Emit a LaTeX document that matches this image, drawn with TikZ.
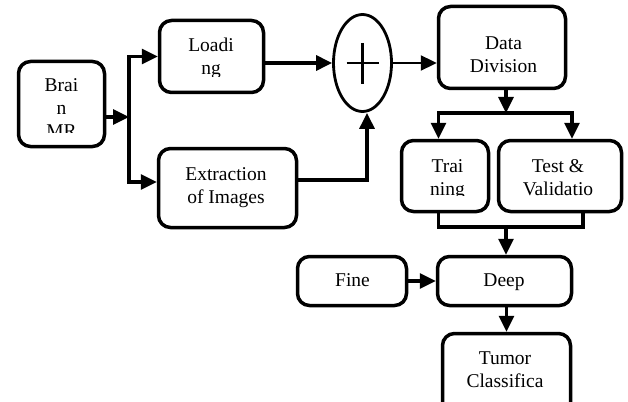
\documentclass[tikz,border=0pt]{standalone}
\usepackage{fontspec}
\setmainfont{Liberation Serif}
\usetikzlibrary{shapes.geometric, arrows.meta, positioning, calc}

\begin{document}
\begin{tikzpicture}[x=1pt, y=-1pt,
  blk/.style={draw, line width=3.5pt, rounded corners=12pt, inner sep=0pt},
  txt/.style={align=center, inner sep=0pt, font=\fontsize{19.5}{23}\selectfont},
  conn/.style={line width=3.2pt, -{Triangle[length=16pt, width=15pt]}},
  wire/.style={line width=3.2pt},
]
  \clip (0,0) rectangle (628,401);
  % boxes
  \node[blk, minimum width=86, minimum height=85] (brain) at (61.5,104) {};
  \node[blk, minimum width=104, minimum height=72] (loading) at (211.5,56.5) {};
  \node[blk, minimum width=138, minimum height=79] (extraction) at (227.5,188) {};
  \node[draw, ellipse, line width=2.8pt, minimum width=58, minimum height=97, inner sep=0pt] (plus) at (362.5,63) {};
  \node[blk, minimum width=127, minimum height=82] (data) at (502,47.5) {};
  \node[blk, minimum width=87, minimum height=71] (train) at (445,176) {};
  \node[blk, minimum width=123, minimum height=71] (test) at (560,176) {};
  \node[blk, minimum width=109, minimum height=49] (fine) at (352,281) {};
  \node[blk, minimum width=134, minimum height=49] (deep) at (504.5,281) {};
  \node[blk, minimum width=128, minimum height=85] (tumor) at (506.5,376) {};

  % texts (some are cut off by their text box)
  \begin{scope}
    \clip (17,60) rectangle (106,132);
    \node[txt] (brainT) at (61.5,108.5) {Brai\\n\\MR};
  \end{scope}
  \begin{scope}
    \clip (158,19) rectangle (265,77);
    \node[txt] (loadingT) at (211,58.5) {Loadi\\ng};
  \end{scope}
  \begin{scope}
    \clip (400,139) rectangle (490,195);
    \node[txt] (trainT) at (447.5,180) {Trai\\ning};
  \end{scope}
  \node[txt] (extractionT) at (226,188) {Extraction\\of Images};
  \node[txt] (dataT) at (503.5,55) {Data\\Division};
  \node[txt] (testT) at (558,178) {Test \&\\Validatio};
  \node[txt] (fineT) at (352.5,280.5) {Fine};
  \node[txt] (deepT) at (504,282) {Deep};
  \node[txt] (tumorT) at (505,369.5) {Tumor\\Classifica};

  % plus sign
  \draw[line width=2.8pt] ([xshift=-16pt]plus.center) -- ([xshift=16pt]plus.center);
  \draw[line width=2.8pt] ([yshift=20pt]plus.center) -- ([yshift=-21pt]plus.center);

  % connectors
  \coordinate (split) at (129,117);
  \coordinate (splitT) at (129,56.5);
  \coordinate (splitB) at (129,182);
  \coordinate (xbend) at (367,180);
  \coordinate (dsplit) at (506,113);
  \coordinate (trainIn) at (438.5,113);
  \coordinate (testIn) at (572,113);
  \coordinate (merge) at (506,227);
  \coordinate (testOut) at (583,227);

  \draw[conn] (brain.east |- split) -- (split);
  \draw[conn] (splitB) -- (splitT) -- (loading.west);
  \draw[conn] (splitT) -- (splitB) -- (extraction.west |- splitB);
  \draw[conn] (loading.east |- plus) -- (plus.west);
  \draw[conn] (extraction.east |- xbend) -- (xbend) -- (xbend |- plus.south);
  \draw[conn, line width=2.3pt] (plus.east) -- (data.west |- plus.east);
  \draw[conn] (data.south -| dsplit) -- (dsplit);
  \draw[conn] (dsplit) -- (trainIn) -- (trainIn |- train.north);
  \draw[conn] (dsplit) -- (testIn) -- (testIn |- test.north);
  \draw[wire] (trainIn |- train.south) |- (testOut) -- (testOut |- test.south);
  \draw[conn] (merge) -- (deep.north -| merge);
  \draw[conn] (fine.east) -- (deep.west);
  \draw[conn] (deep.south -| tumor) -- (tumor.north);
\end{tikzpicture}
\end{document}
